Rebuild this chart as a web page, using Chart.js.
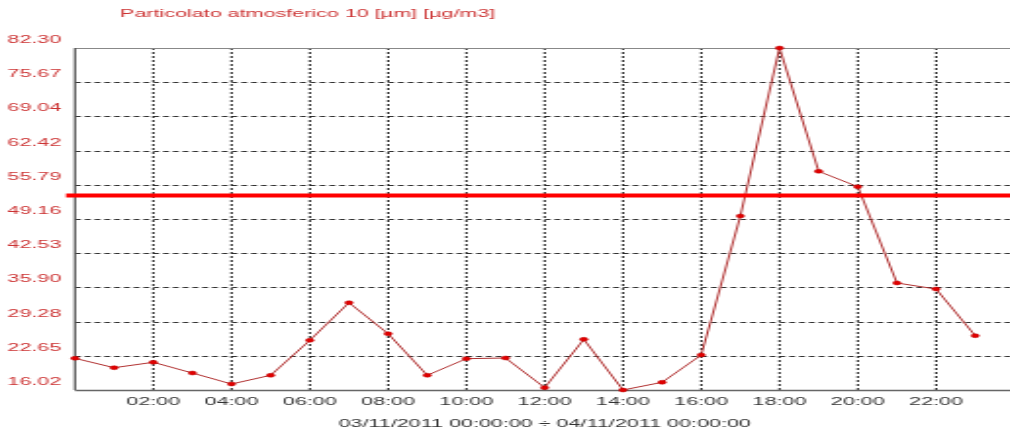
<!DOCTYPE html>
<html>
<head>
<meta charset="utf-8">
<script src="https://cdn.jsdelivr.net/npm/chart.js@4"></script>
<style>
  html, body { margin:0; padding:0; width:1010px; height:432px; overflow:hidden; background:#fff; }
  #wrap { position:absolute; left:0; top:0; width:528px; height:432px; transform:scaleX(1.957); transform-origin:0 0; }
</style>
</head>
<body>
<div id="wrap"><canvas id="c"></canvas></div>
<script>
const chartTitle = 'Particolato atmosferico 10 [µm] [µg/m3]';
const axisTitle = '03/11/2011 00:00:00 ÷ 04/11/2011 00:00:00';
const hours = [0,1,2,3,4,5,6,7,8,9,10,11,12,13,14,15,16,17,18,19,20,21,22,23];
const pm10Values = [22.16,20.34,21.39,19.31,17.18,18.87,25.65,32.94,26.93,18.87,22.09,22.22,16.47,25.84,16.02,17.51,22.80,49.74,82.30,58.40,55.42,36.76,35.59,26.54];
const xTickHours = [2,4,6,8,10,12,14,16,18,20,22];
const xTickLabels = ['02:00','04:00','06:00','08:00','10:00','12:00','14:00','16:00','18:00','20:00','22:00'];
const yTickValues = [16.02,22.65,29.28,35.90,42.53,49.16,55.79,62.42,69.04,75.67,82.30];
const yTickLabels = ['16.02','22.65','29.28','35.90','42.53','49.16','55.79','62.42','69.04','75.67','82.30'];
const thresholdValue = 53.7;

const FONT = 'Liberation Sans, Arial, sans-serif';
const RED_TEXT = '#cc3333';

const framePlugin = {
  id: 'frame',
  beforeDatasetsDraw(chart) {
    const {ctx, chartArea: a, scales: {x, y}} = chart;
    ctx.save();
    // horizontal dashed grid
    ctx.strokeStyle = '#333';
    ctx.lineWidth = 1;
    ctx.setLineDash([3, 2]);
    yTickValues.slice(1, -1).forEach(v => {
      const py = Math.round(y.getPixelForValue(v)) + 0.5;
      ctx.beginPath(); ctx.moveTo(a.left, py); ctx.lineTo(a.right, py); ctx.stroke();
    });
    // vertical dotted grid
    ctx.strokeStyle = '#111';
    ctx.setLineDash([2, 2]);
    xTickHours.forEach(h => {
      const px = x.getPixelForValue(h);
      ctx.beginPath(); ctx.moveTo(px, a.top); ctx.lineTo(px, a.bottom); ctx.stroke();
    });
    ctx.setLineDash([]);
    // frame
    ctx.strokeStyle = '#888';
    ctx.beginPath(); ctx.moveTo(a.left, a.top + 0.5); ctx.lineTo(a.right + 20, a.top + 0.5); ctx.stroke();
    ctx.strokeStyle = '#555';
    ctx.lineWidth = 1.2;
    ctx.beginPath(); ctx.moveTo(a.left, a.top); ctx.lineTo(a.left, a.bottom); ctx.stroke();
    ctx.strokeStyle = '#666';
    ctx.lineWidth = 1.5;
    ctx.beginPath(); ctx.moveTo(a.left, a.bottom + 0.5); ctx.lineTo(a.right + 20, a.bottom + 0.5); ctx.stroke();
    ctx.restore();
  },
  afterDatasetsDraw(chart) {
    const {ctx, chartArea: a, scales: {y}} = chart;
    const py = y.getPixelForValue(thresholdValue);
    ctx.save();
    ctx.strokeStyle = '#ff0000';
    ctx.lineWidth = 4;
    ctx.beginPath(); ctx.moveTo(a.left - 4.6, py); ctx.lineTo(a.right + 20, py); ctx.stroke();
    ctx.restore();
  },
  afterDraw(chart) {
    const {ctx} = chart;
    ctx.save();
    ctx.font = '11px ' + FONT;
    ctx.fillStyle = RED_TEXT;
    ctx.textBaseline = 'middle';
    ctx.textAlign = 'left';
    ctx.fillText(chartTitle, 61.3, 14);
    ctx.restore();
  }
};

new Chart(document.getElementById('c'), {
  type: 'line',
  data: {
    datasets: [{
      data: hours.map((h, i) => ({x: h, y: pm10Values[i]})),
      borderColor: '#b03030',
      borderWidth: 1,
      pointRadius: 2,
      pointBackgroundColor: '#e00000',
      pointBorderColor: '#c00000',
      pointBorderWidth: 0.5,
      tension: 0,
      clip: false
    }]
  },
  options: {
    responsive: true,
    maintainAspectRatio: false,
    animation: false,
    events: [],
    layout: { padding: { top: 48, right: 9.7, left: 0, bottom: 0 } },
    plugins: { legend: { display: false }, title: { display: false }, tooltip: { enabled: false } },
    scales: {
      x: {
        type: 'linear',
        min: 0, max: 24,
        afterBuildTicks: s => { s.ticks = xTickHours.map(v => ({value: v})); },
        afterFit: s => { s.height = 42; },
        grid: { display: false, drawTicks: false },
        border: { display: false },
        ticks: {
          padding: 5,
          maxRotation: 0,
          autoSkip: false,
          color: '#333',
          font: { family: FONT, size: 11 },
          callback: (v, i) => xTickLabels[i]
        },
        title: {
          display: true,
          text: axisTitle,
          color: '#333',
          font: { family: FONT, size: 11 },
          padding: { top: 0, bottom: 1.5 }
        }
      },
      y: {
        type: 'linear',
        min: 16.02, max: 82.30,
        afterBuildTicks: s => { s.ticks = yTickValues.map(v => ({value: v})); },
        afterFit: s => { s.width = 38.3; },
        grid: { display: false, drawTicks: false },
        border: { display: false },
        ticks: {
          padding: 7,
          labelOffset: -8,
          autoSkip: false,
          color: RED_TEXT,
          font: { family: FONT, size: 11 },
          callback: (v, i) => yTickLabels[i]
        }
      }
    }
  },
  plugins: [framePlugin]
});
</script>
</body>
</html>
